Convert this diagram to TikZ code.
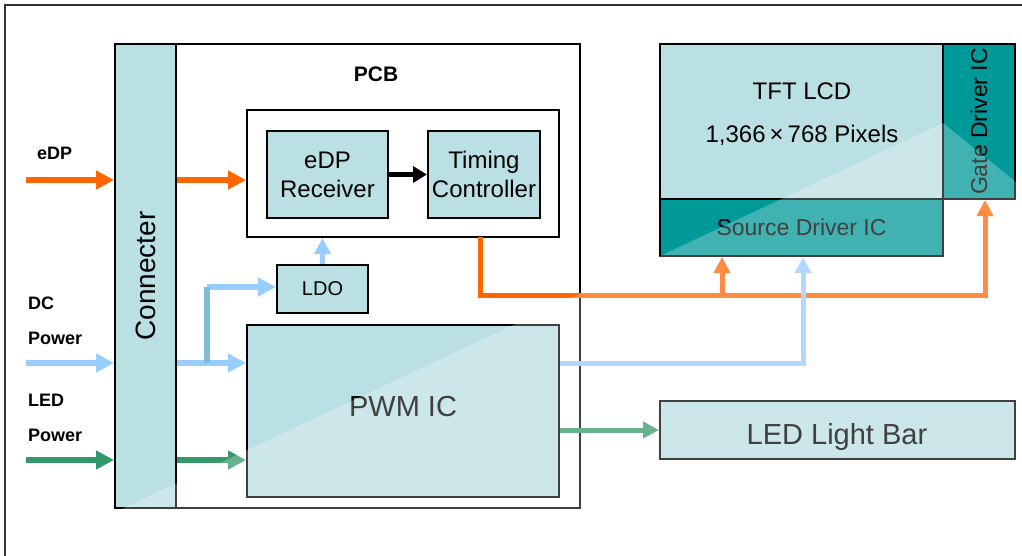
\documentclass[tikz,border=0pt]{standalone}
\usepackage{fontspec}
\setmainfont{Liberation Sans}
\usetikzlibrary{arrows.meta,calc}
\definecolor{lteal}{HTML}{BBE0E3}
\definecolor{dteal}{HTML}{009999}
\definecolor{eorange}{HTML}{FF6600}
\definecolor{lblue}{HTML}{99CCFF}
\definecolor{bblue}{HTML}{80BCD8}
\definecolor{lgreen}{HTML}{339966}
\definecolor{framegray}{HTML}{333333}
\tikzset{
  box/.style={draw=black, line width=2pt, fill=lteal, rectangle, inner sep=0pt, text=black},
  darkbox/.style={draw=black, line width=2pt, fill=dteal, rectangle, inner sep=0pt, text=black},
  plainbox/.style={draw=black, line width=2pt, fill=white, rectangle, inner sep=0pt},
  bigarrow/.style={line width=6pt, -{Triangle[length=18pt,width=18pt]}},
  midarrow/.style={line width=5pt, -{Triangle[length=16pt,width=16pt]}},
  lbl/.style={font=\bfseries\fontsize{18}{20}\selectfont, anchor=west, inner sep=0pt},
  f24/.style={font=\fontsize{24}{29}\selectfont, align=center}
}
\begin{document}
\begin{tikzpicture}[x=1pt,y=-1pt]
\useasboundingbox (0,0) rectangle (1022,555);
\clip (0,0) rectangle (1022,555);
\fill[white] (0,0) rectangle (1022,555);
% outer frame
\draw[framegray, line width=1.5pt] (5,570) -- (5,5) -- (1040,5);

% PCB and connector
\node[plainbox, minimum width=404pt, minimum height=464pt] (pcb) at (378,276) {};
\node[box, minimum width=61pt, minimum height=464pt] (conn) at (145.5,276)
  {\rotatebox{90}{\fontsize{28}{30}\selectfont Connecter}};
\node[font=\bfseries\fontsize{21}{24}\selectfont] (pcbl) at (376,74) {PCB};

% inner block
\node[plainbox, minimum width=312pt, minimum height=127pt] (inner) at (403,173.5) {};
\node[box, f24, minimum width=121pt, minimum height=87pt] (rx) at (327.5,174.5) {eDP\\Receiver};
\node[box, f24, minimum width=112pt, minimum height=87pt] (tcon) at (484,174.5) {Timing\\Controller};
\node[box, minimum width=91pt, minimum height=48pt, font=\fontsize{20}{22}\selectfont] (ldo) at (322.5,289) {LDO};
\node[box, minimum width=312pt, minimum height=172pt] (pwm) at (403,411) {};
\node[font=\fontsize{29}{32}\selectfont] (pwml) at (403,407) {PWM IC};

% panel
\node[box, minimum width=283pt, minimum height=155pt] (tft) at (801.5,121.5) {};
\node[font=\fontsize{24}{28}\selectfont] (tftl) at (802,91) {TFT LCD};
\node[font=\fontsize{24}{28}\selectfont] (pix) at (802,135) {1,366\,×\,768 Pixels};
\node[darkbox, minimum width=283pt, minimum height=57pt, font=\fontsize{23}{26}\selectfont] (src) at (801.5,227.5) {Source Driver IC};
\node[darkbox, minimum width=72pt, minimum height=155pt] (gate) at (979,121.5)
  {\rotatebox{90}{\fontsize{23}{26}\selectfont Gate Driver IC}};
\node[box, minimum width=355pt, minimum height=58pt] (bar) at (837.5,430) {};
\node[font=\fontsize{29}{32}\selectfont] (barl) at (837,437) {LED Light Bar};

% input labels
\node[lbl] (edpl) at (37,153) {eDP};
\node[lbl] (dcl) at (28,303) {DC};
\node[lbl] (dcp) at (28,338) {Power};
\node[lbl] (ledl) at (28,400) {LED};
\node[lbl] (ledp) at (28,435) {Power};

% input coordinates
\coordinate (edpin) at (26,180);
\coordinate (dcin) at (26,363);
\coordinate (ledin) at (26,460);
\coordinate (br) at (207,363);
\coordinate (brt) at (207,287);
\coordinate (tout) at (480,237);
\coordinate (bus) at (480,295);

% eDP
\draw[eorange, bigarrow] (edpin) -- (edpin -| conn.west);
\draw[eorange, bigarrow] (conn.east |- edpin) -- (inner.west |- edpin);
% DC
\draw[lblue, bigarrow] (dcin) -- (dcin -| conn.west);
\draw[lblue, bigarrow] (conn.east |- dcin) -- (pwm.west |- dcin);
\draw[lblue, bigarrow] (brt) -- (ldo.west |- brt);
\draw[bblue, line width=6pt] (br) -- (brt);
\draw[lblue, midarrow] (ldo.north) -- (ldo.north |- inner.south);
% LED
\draw[lgreen, bigarrow] (ledin) -- (ledin -| conn.west);
\draw[lgreen, bigarrow] (conn.east |- ledin) -- (pwm.west |- ledin);
% internal
\draw[black, line width=5pt, -{Triangle[length=14pt,width=16pt]}] (rx.east) -- (tcon.west);
% timing controller to drivers
\draw[eorange, midarrow] (tout) -- (bus) -| ($(gate.south)+(6,0)$);
\draw[eorange, midarrow] (bus -| {$(src.south)+(-79.5,0)$}) -- ($(src.south)+(-79.5,0)$);
% PWM outputs
\draw[lblue, midarrow] (pwm.east |- dcin) -| ($(src.south)+(1.5,0)$);
\draw[lgreen, midarrow] (pwm.east |- bar.west) -- (bar.west);

% gloss overlay
\fill[white, opacity=0.25] (24,555) -- (943,123) -- (1022,187) -- (1022,555) -- cycle;
\end{tikzpicture}
\end{document}
